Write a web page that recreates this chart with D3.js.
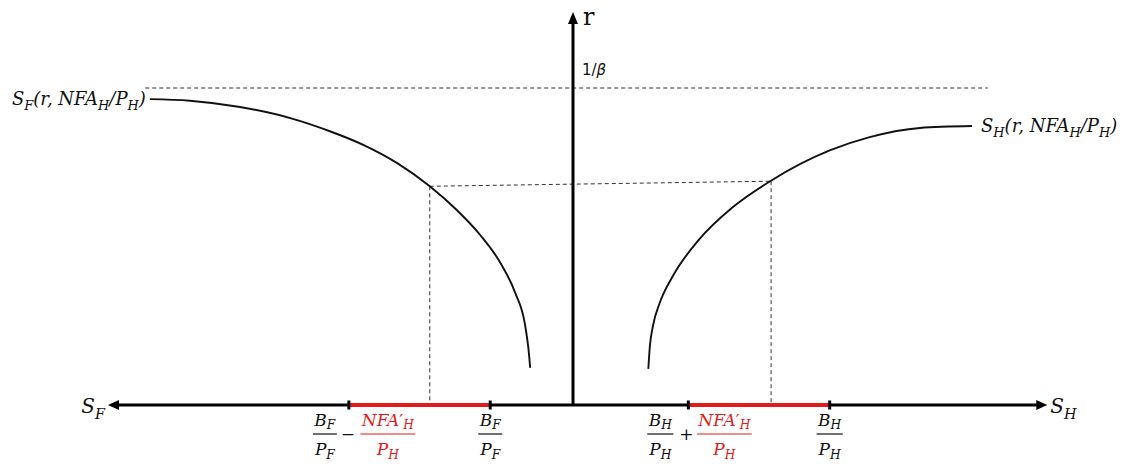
<!DOCTYPE html>
<html>
<head>
<meta charset="utf-8">
<script src="https://cdn.jsdelivr.net/npm/d3@7"></script>
<style>
  html, body { margin: 0; padding: 0; background: #fff; }
  svg { display: block; }
</style>
</head>
<body>
<svg id="chart" width="1123" height="466"></svg>
<script>
// ---------- DATA ----------
// S axis units: 0 at the vertical r axis; S_F drawn to the left, S_H to the right.
// r units: 1 = level 1/beta.
const sAxisExtent = [-50, 51];          // horizontal axis (arrow tips)
const rAxisMax = 1.24;                  // vertical axis arrow tip
const rUpper = 1.0;                     // 1/beta
const upperLineExtent = [-46.0, 44.6];  // dashed 1/beta line

// S_F(r, NFA_H/P_H) curve  (S_F magnitudes, plotted to the left)
const sfCurveS = [45.5, 41.2, 35.8, 30.4, 26.0, 22.5, 18.9, 15.4, 12.5, 10.0, 7.8, 6.2, 5.2, 4.8, 4.6];
const sfCurveR = [0.965, 0.960, 0.940, 0.905, 0.862, 0.820, 0.763, 0.690, 0.615, 0.537, 0.448, 0.353, 0.260, 0.180, 0.117];

// S_H(r, NFA_H/P_H) curve
const shCurveS = [8.1, 8.25, 8.6, 9.3, 10.8, 13.5, 17.1, 21.2, 27.6, 31.9, 37.3, 42.9];
const shCurveR = [0.114, 0.180, 0.250, 0.320, 0.410, 0.520, 0.622, 0.706, 0.803, 0.845, 0.874, 0.880];

// equilibrium points on each curve (dashed guides)
const eqSF = 15.4, eqRF = 0.690;
const eqSH = 21.3, eqRH = 0.706;

// tick values
const BF_PF = 8.9;     // B_F / P_F
const BH_PH = 27.6;    // B_H / P_H
const NFA_PH = 15.2;   // NFA'_H / P_H

// ---------- SCALES ----------
const svg = d3.select("#chart");
const x = d3.scaleLinear().domain([-50, 50]).range([108, 1038]);
const y = d3.scaleLinear().domain([0, 1]).range([405, 88]);

const RED = "#e41b1b";
const mathFont = "'DejaVu Serif', serif";

// ---------- helpers ----------
function mathText(g, px, py, parts, opts) {
  const t = g.append("text")
    .attr("x", px).attr("y", py)
    .attr("font-family", mathFont)
    .attr("font-style", "italic")
    .attr("font-size", opts.size)
    .attr("text-anchor", opts.anchor || "start")
    .attr("fill", opts.color || "#111");
  const shift = opts.size * (opts.subShift || 0.28);
  let down = false;
  parts.forEach(p => {
    const ts = t.append("tspan").text(p.t);
    if (p.sub && !down) { ts.attr("dy", shift); down = true; }
    else if (!p.sub && down) { ts.attr("dy", -shift); down = false; }
    if (p.sub) ts.attr("font-size", opts.size * 0.72);
    if (p.up) ts.attr("font-style", "normal");
    if (p.color) ts.attr("fill", p.color);
  });
  return t;
}

function fraction(g, cx, num, den, color, size) {
  const numT = mathText(g, cx, 426, num, {size: size, anchor: "middle", color: color, subShift: 0.2});
  const denT = mathText(g, cx, 455, den, {size: size, anchor: "middle", color: color, subShift: 0.24});
  const w = Math.max(numT.node().getComputedTextLength(), denT.node().getComputedTextLength()) + 3;
  g.append("line")
    .attr("x1", cx - w / 2).attr("x2", cx + w / 2)
    .attr("y1", 434).attr("y2", 434)
    .attr("stroke", color).attr("stroke-width", 1.2);
}

const gDash = svg.append("g")
  .attr("fill", "none").attr("stroke", "#333")
  .attr("stroke-width", 1).attr("stroke-dasharray", "4,3");

// dashed 1/beta line
gDash.append("line")
  .attr("x1", x(upperLineExtent[0])).attr("x2", x(upperLineExtent[1]))
  .attr("y1", y(rUpper)).attr("y2", y(rUpper));

// guides between equilibrium points
gDash.append("line")
  .attr("x1", x(-eqSF)).attr("y1", y(eqRF))
  .attr("x2", x(eqSH)).attr("y2", y(eqRH));
gDash.append("line")
  .attr("x1", x(-eqSF)).attr("y1", y(eqRF))
  .attr("x2", x(-eqSF)).attr("y2", y(0));
gDash.append("line")
  .attr("x1", x(eqSH)).attr("y1", y(eqRH))
  .attr("x2", x(eqSH)).attr("y2", y(0));

// curves (monotone in x on screen)
const line = d3.line().curve(d3.curveMonotoneX);
svg.append("path")
  .attr("d", line(sfCurveS.map((s, i) => [x(-s), y(sfCurveR[i])])))
  .attr("fill", "none").attr("stroke", "#111").attr("stroke-width", 1.9);
svg.append("path")
  .attr("d", line(shCurveS.map((s, i) => [x(s), y(shCurveR[i])])))
  .attr("fill", "none").attr("stroke", "#111").attr("stroke-width", 1.9);

// horizontal axis
const head = 11, half = 5;
const xl = x(sAxisExtent[0]), xr = x(sAxisExtent[1]), y0 = y(0);
svg.append("line")
  .attr("x1", xl + head - 1).attr("x2", xr - head + 1)
  .attr("y1", y0).attr("y2", y0)
  .attr("stroke", "#000").attr("stroke-width", 3);
svg.append("path")
  .attr("d", `M${xl},${y0}L${xl + head},${y0 - half}L${xl + head},${y0 + half}Z`)
  .attr("fill", "#000");
svg.append("path")
  .attr("d", `M${xr},${y0}L${xr - head},${y0 - half}L${xr - head},${y0 + half}Z`)
  .attr("fill", "#000");

// red segments
const leftTick = -(BF_PF + NFA_PH), rightTick = BH_PH - NFA_PH;
svg.append("line")
  .attr("x1", x(leftTick)).attr("x2", x(-BF_PF))
  .attr("y1", y0).attr("y2", y0)
  .attr("stroke", RED).attr("stroke-width", 4);
svg.append("line")
  .attr("x1", x(rightTick)).attr("x2", x(BH_PH))
  .attr("y1", y0).attr("y2", y0)
  .attr("stroke", RED).attr("stroke-width", 4);

// tick marks
[leftTick, -BF_PF, rightTick, BH_PH].forEach(v => {
  svg.append("line")
    .attr("x1", x(v)).attr("x2", x(v))
    .attr("y1", y0 - 4.5).attr("y2", y0 + 4.5)
    .attr("stroke", "#000").attr("stroke-width", 3);
});

// vertical axis
const x0 = x(0), yt = y(rAxisMax);
svg.append("line")
  .attr("x1", x0).attr("x2", x0)
  .attr("y1", y0 + 1).attr("y2", yt + 11)
  .attr("stroke", "#000").attr("stroke-width", 3);
svg.append("path")
  .attr("d", `M${x0},${yt}L${x0 - 5},${yt + 12}L${x0 + 5},${yt + 12}Z`)
  .attr("fill", "#000");

// axis labels
svg.append("text").attr("x", x0 + 10).attr("y", yt + 13)
  .attr("font-family", mathFont).attr("font-size", 24).attr("fill", "#111").text("r");
const beta = svg.append("text").attr("x", x0 + 9).attr("y", y(rUpper) - 13)
  .attr("font-family", "'DejaVu Sans', sans-serif").attr("font-size", 15).attr("fill", "#111");
beta.append("tspan").text("1/");
beta.append("tspan").attr("font-style", "italic").text("β");

mathText(svg, xl - 3, y0 + 8, [{t: "S"}, {t: "F", sub: true}], {size: 20, anchor: "end"});
mathText(svg, xr + 3, y0 + 8, [{t: "S"}, {t: "H", sub: true}], {size: 20});

// curve labels
mathText(svg, x(-sfCurveS[0]) - 4, y(sfCurveR[0]) + 6,
  [{t: "S"}, {t: "F", sub: true}, {t: "(r, NFA"}, {t: "H", sub: true}, {t: "/P"}, {t: "H", sub: true}, {t: ")"}],
  {size: 18, anchor: "end"});
mathText(svg, x(shCurveS[shCurveS.length - 1]) + 9, y(shCurveR[shCurveR.length - 1]) + 6,
  [{t: "S"}, {t: "H", sub: true}, {t: "(r, NFA"}, {t: "H", sub: true}, {t: "/P"}, {t: "H", sub: true}, {t: ")"}],
  {size: 18});

// bottom fraction labels
const gLab = svg.append("g");
const fs = 17;
const BF = [{t: "B"}, {t: "F", sub: true}], PF = [{t: "P"}, {t: "F", sub: true}];
const BH = [{t: "B"}, {t: "H", sub: true}], PH = [{t: "P"}, {t: "H", sub: true}];
const NFA = [{t: "NFA"}, {t: "′", up: true}, {t: "H", sub: true}];

fraction(gLab, x(leftTick) - 24, BF, PF, "#111", fs);
gLab.append("text").attr("x", x(leftTick) - 1).attr("y", 440).attr("text-anchor", "middle")
  .attr("font-family", mathFont).attr("font-size", 17).attr("fill", "#111").text("−");
fraction(gLab, x(leftTick) + 39, NFA, PH, RED, fs);
fraction(gLab, x(-BF_PF), BF, PF, "#111", fs);

fraction(gLab, x(rightTick) - 28, BH, PH, "#111", fs);
gLab.append("text").attr("x", x(rightTick) - 2).attr("y", 440).attr("text-anchor", "middle")
  .attr("font-family", mathFont).attr("font-size", 17).attr("fill", "#111").text("+");
fraction(gLab, x(rightTick) + 36, NFA, PH, RED, fs);
fraction(gLab, x(BH_PH), BH, PH, "#111", fs);
</script>
</body>
</html>
